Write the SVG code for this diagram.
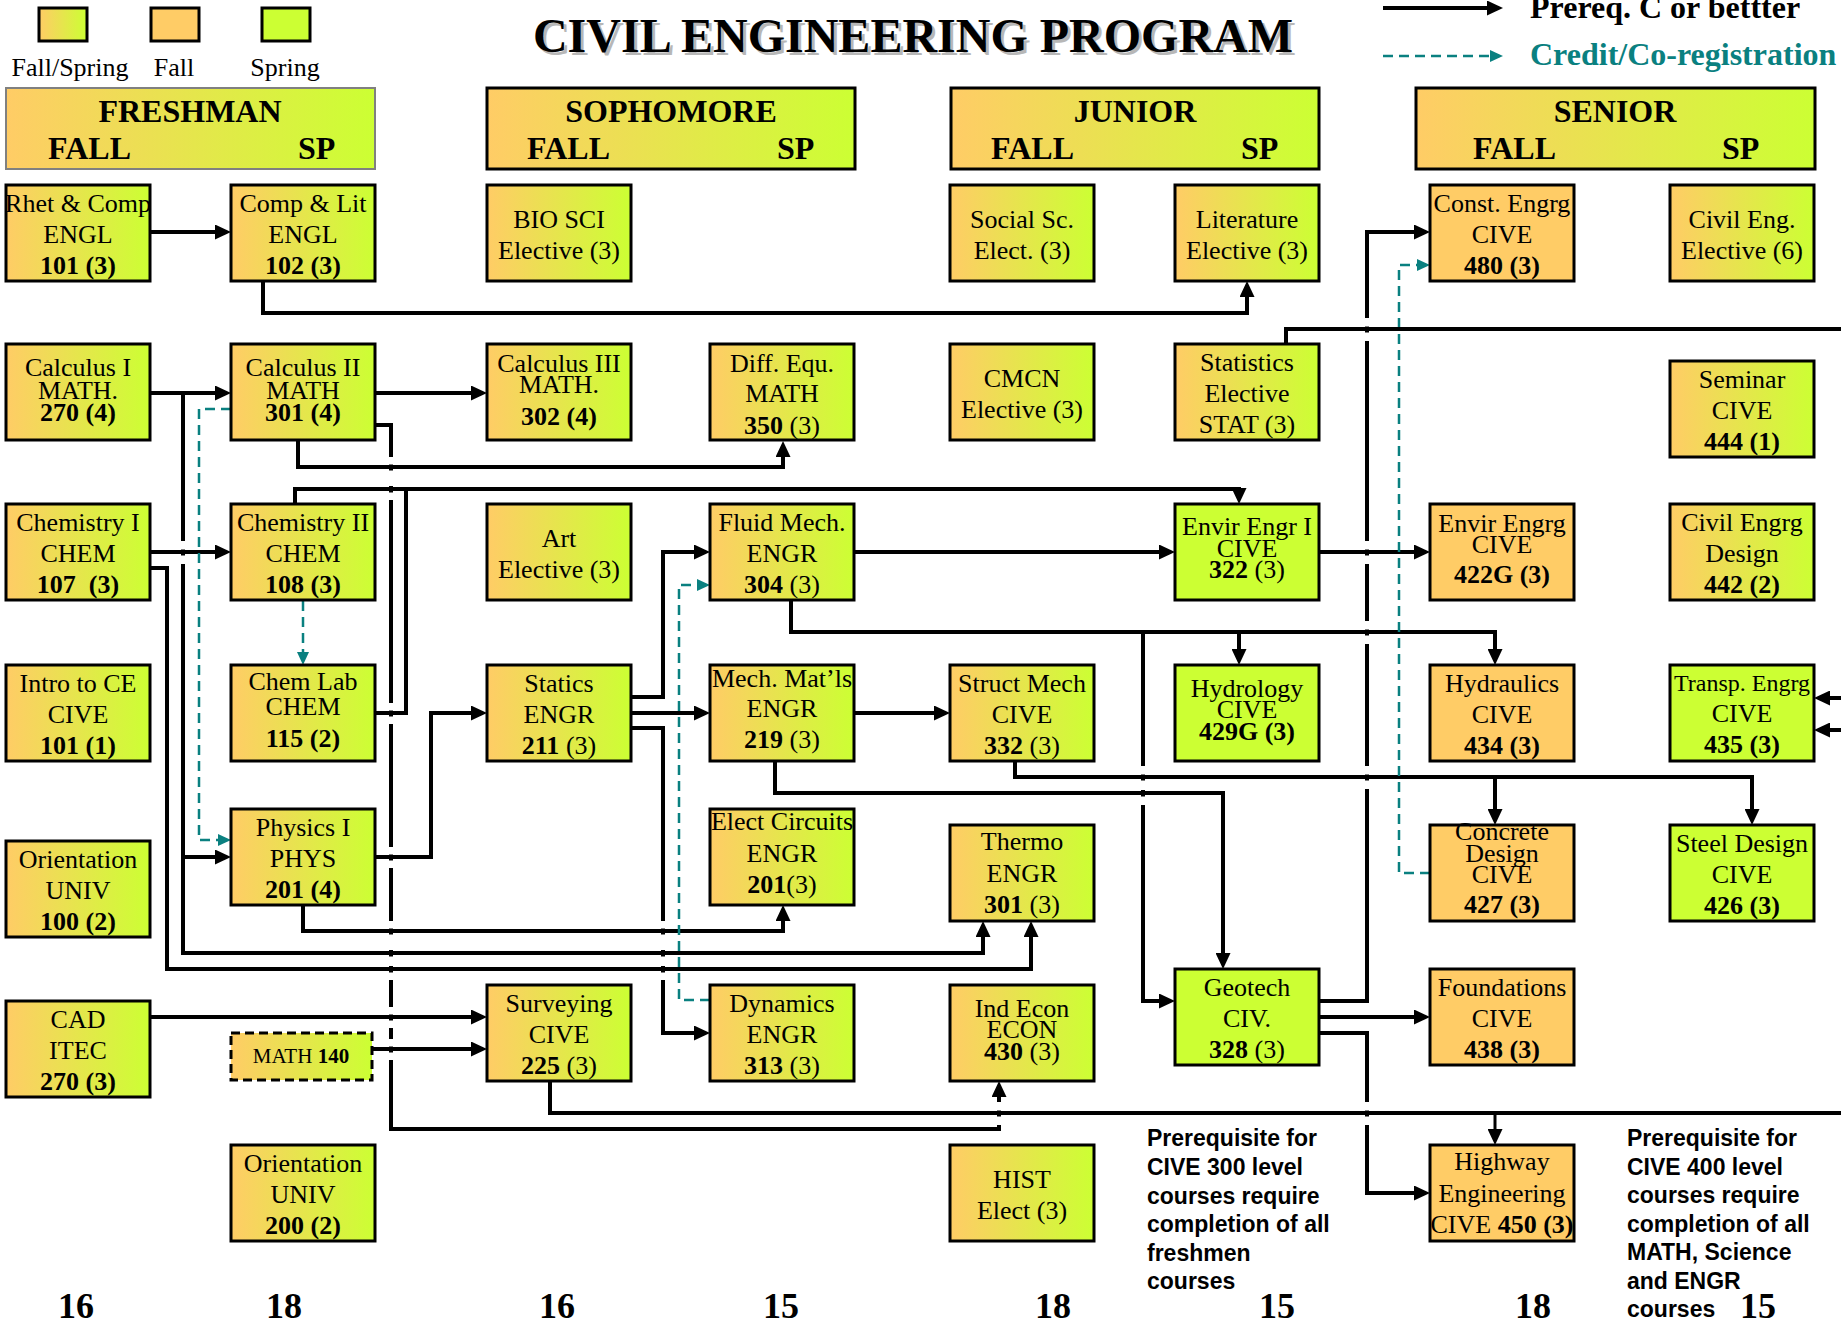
<svg xmlns="http://www.w3.org/2000/svg" width="1841" height="1326" viewBox="0 0 1841 1326">
<defs>
<linearGradient id="g" x1="0" y1="0" x2="1" y2="0">
<stop offset="0" stop-color="#FFCC66"/>
<stop offset="1" stop-color="#CCFF33"/>
</linearGradient>
<marker id="ah" markerUnits="userSpaceOnUse" markerWidth="17" markerHeight="15" refX="6" refY="7.5" orient="auto"><path d="M0,0 L16,7.5 L0,15 Z" fill="#000"/></marker>
<marker id="at" markerUnits="userSpaceOnUse" markerWidth="14" markerHeight="12" refX="5" refY="6" orient="auto"><path d="M0,0 L13,6 L0,12 Z" fill="#0A8080"/></marker>
<style>
.box{stroke:#000;stroke-width:3}
.grad{fill:url(#g)}
.fall{fill:#FFCC66}
.spr{fill:#CCFF33}
.t{font-family:"Liberation Serif","Times New Roman",serif;font-size:26px;text-anchor:middle;fill:#000}
.b{font-weight:bold}
.n{font-weight:normal}
.h{font-family:"Liberation Serif","Times New Roman",serif;font-size:32px;font-weight:bold;fill:#000}
.c{fill:none;stroke:#000;stroke-width:4}
.a{fill:none;stroke:#000;stroke-width:4;marker-end:url(#ah)}
.d{fill:none;stroke:#0A8080;stroke-width:2.5;stroke-dasharray:10,6;marker-end:url(#at)}
.note{font-family:"Liberation Sans",Arial,sans-serif;font-size:23px;font-weight:bold;fill:#000}
.cr{font-family:"Liberation Serif","Times New Roman",serif;font-size:36px;font-weight:bold;text-anchor:middle;fill:#000}
.gap{fill:#fff}
</style>
</defs>
<rect x="0" y="0" width="1841" height="1326" fill="#fff"/>

<g id="title">
<text x="916" y="55" text-anchor="middle" font-family="Liberation Serif,Times New Roman,serif" font-size="48" font-weight="bold" fill="#9a9a9a" opacity="0.7">CIVIL ENGINEERING PROGRAM</text>
<text x="913" y="52" text-anchor="middle" font-family="Liberation Serif,Times New Roman,serif" font-size="48" font-weight="bold" fill="#000">CIVIL ENGINEERING PROGRAM</text>
</g>

<g id="legend">
<rect class="box grad" x="39" y="8" width="48" height="33"/>
<rect class="box fall" x="151" y="8" width="48" height="33"/>
<rect class="box spr" x="262" y="8" width="48" height="33"/>
<text class="t" x="70" y="76">Fall/Spring</text>
<text class="t" x="174" y="76">Fall</text>
<text class="t" x="285" y="76">Spring</text>
<path class="a" d="M1383,8 H1493"/>
<path class="d" d="M1383,56 H1495"/>
<text x="1530" y="18" font-family="Liberation Serif,Times New Roman,serif" font-size="32" font-weight="bold" fill="#000">Prereq. C or bettter</text>
<text x="1530" y="65" font-family="Liberation Serif,Times New Roman,serif" font-size="32" font-weight="bold" fill="#0A8080">Credit/Co-registration</text>
</g>

<g id="hdr_freshman">
<rect x="6" y="88" width="369" height="81" fill="url(#g)" stroke="#808080" stroke-width="2"/>
<text class="h" x="190" y="122" text-anchor="middle">FRESHMAN</text>
<text class="h" x="48" y="159">FALL</text>
<text class="h" x="298" y="159">SP</text>
</g>
<g id="hdr_sophomore">
<rect class="box grad" x="487" y="88" width="368" height="81"/>
<text class="h" x="671" y="122" text-anchor="middle">SOPHOMORE</text>
<text class="h" x="527" y="159">FALL</text>
<text class="h" x="777" y="159">SP</text>
</g>
<g id="hdr_junior">
<rect class="box grad" x="951" y="88" width="368" height="81"/>
<text class="h" x="1135" y="122" text-anchor="middle">JUNIOR</text>
<text class="h" x="991" y="159">FALL</text>
<text class="h" x="1241" y="159">SP</text>
</g>
<g id="hdr_senior">
<rect class="box grad" x="1416" y="88" width="399" height="81"/>
<text class="h" x="1615" y="122" text-anchor="middle">SENIOR</text>
<text class="h" x="1473" y="159">FALL</text>
<text class="h" x="1722" y="159">SP</text>
</g>

<g id="connectors">
<path class="a" d="M150,232 H221"/>
<path class="a" d="M263,281 V313 H1247 V291"/>
<path class="a" d="M150,393 H221"/>
<path class="a" d="M183,393 V953 H983 V931"/>
<path class="a" d="M183,857 H221"/>
<path class="a" d="M150,552 H221"/>
<path class="a" d="M150,568 H167 V969 H1031 V931"/>
<path class="a" d="M375,393 H477"/>
<path class="a" d="M298,441 V467 H783 V451"/>
<path class="a" d="M375,425 H391 V1129 H999 V1091"/>
<path class="a" d="M295,504 V489 H1239 V494"/>
<path class="c" d="M375,713 H406 V489"/>
<path class="d" d="M303,601 V657"/>
<path class="d" d="M231,409 H199 V840 H223"/>
<path class="a" d="M375,857 H431 V713 H477"/>
<path class="a" d="M303,905 V931 H783 V915"/>
<path class="a" d="M150,1017 H477"/>
<path class="a" d="M372,1049 H477"/>
<path class="a" d="M631,697 H663 V552 H700"/>
<path class="a" d="M631,713 H700"/>
<path class="a" d="M631,728 H663 V1033 H700"/>
<path class="d" d="M710,1000 H679 V585 H702"/>
<path class="a" d="M854,552 H1165"/>
<path class="a" d="M791,601 V632 H1495 V655"/>
<path class="a" d="M1239,632 V655"/>
<path class="a" d="M1143,632 V1001 H1165"/>
<path class="a" d="M854,713 H940"/>
<path class="a" d="M775,761 V793 H1223 V959"/>
<path class="a" d="M1015,761 V777 H1752 V815"/>
<path class="a" d="M1495,777 V815"/>
<path class="a" d="M1319,552 H1420"/>
<path class="a" d="M1319,1001 H1367 V232 H1420"/>
<path class="a" d="M1319,1017 H1420"/>
<path class="a" d="M1319,1033 H1367 V1193 H1420"/>
<path class="d" d="M1430,873 H1399 V265 H1422"/>
<path class="c" d="M550,1081 V1113 H1841"/>
<path class="a" style="stroke-width:3" d="M1495,1113 V1135"/>
<path class="c" d="M1286,344 V329 H1841"/>
<path class="a" d="M1841,698 H1824"/>
<path class="a" d="M1841,730 H1824"/>
<g id="jumps">
<rect class="gap" x="1364" y="318" width="6" height="8.5"/><rect class="gap" x="1364" y="332.5" width="6" height="8.5"/>
<rect class="gap" x="1364" y="541" width="6" height="8.5"/><rect class="gap" x="1364" y="555.5" width="6" height="8.5"/>
<rect class="gap" x="1364" y="621" width="6" height="8.5"/><rect class="gap" x="1364" y="635.5" width="6" height="8.5"/>
<rect class="gap" x="1364" y="766" width="6" height="8.5"/><rect class="gap" x="1364" y="780.5" width="6" height="8.5"/>
<rect class="gap" x="1364" y="1102" width="6" height="8.5"/><rect class="gap" x="1364" y="1116.5" width="6" height="8.5"/>
<rect class="gap" x="1140" y="766" width="6" height="8.5"/><rect class="gap" x="1140" y="780.5" width="6" height="9.5"/><rect class="gap" x="1140" y="796.5" width="6" height="8.5"/>
<rect class="gap" x="180" y="541" width="6" height="8.5"/><rect class="gap" x="180" y="555.5" width="6" height="8.5"/>
<rect class="gap" x="996" y="1102" width="6" height="8.5"/><rect class="gap" x="996" y="1116.5" width="6" height="8.5"/>
<rect class="gap" x="660" y="921" width="6" height="7.5"/><rect class="gap" x="660" y="934.5" width="6" height="15.5"/><rect class="gap" x="660" y="956.5" width="6" height="9.5"/><rect class="gap" x="660" y="972.5" width="6" height="7.5"/>
<rect class="gap" x="388" y="457" width="6" height="7.5"/><rect class="gap" x="388" y="470.5" width="6" height="15.5"/><rect class="gap" x="388" y="492.5" width="6" height="7.5"/>
<rect class="gap" x="388" y="703" width="6" height="7.5"/><rect class="gap" x="388" y="716.5" width="6" height="7.5"/>
<rect class="gap" x="388" y="847" width="6" height="7.5"/><rect class="gap" x="388" y="860.5" width="6" height="7.5"/>
<rect class="gap" x="388" y="921" width="6" height="7.5"/><rect class="gap" x="388" y="934.5" width="6" height="15.5"/><rect class="gap" x="388" y="956.5" width="6" height="9.5"/><rect class="gap" x="388" y="972.5" width="6" height="7.5"/>
<rect class="gap" x="388" y="1007" width="6" height="7.5"/><rect class="gap" x="388" y="1020.5" width="6" height="7.5"/>
<rect class="gap" x="388" y="1039" width="6" height="7.5"/><rect class="gap" x="388" y="1052.5" width="6" height="7.5"/>
</g>
</g>

<g id="n_engl101"><rect class="box grad" x="6" y="185" width="144" height="96"/><text class="t" x="78" y="212">Rhet &amp; Comp</text><text class="t" x="78" y="243">ENGL</text><text class="t b" x="78" y="274">101 (3)</text></g>
<g id="n_math270"><rect class="box grad" x="6" y="344" width="144" height="96"/><text class="t" x="78" y="376">Calculus I</text><text class="t" x="78" y="399">MATH.</text><text class="t b" x="78" y="421">270 (4)</text></g>
<g id="n_chem107"><rect class="box grad" x="6" y="504" width="144" height="96"/><text class="t" x="78" y="531">Chemistry I</text><text class="t" x="78" y="562">CHEM</text><text class="t b" x="78" y="593" xml:space="preserve">107  (3)</text></g>
<g id="n_cive101"><rect class="box grad" x="6" y="665" width="144" height="96"/><text class="t" x="78" y="692">Intro to CE</text><text class="t" x="78" y="723">CIVE</text><text class="t b" x="78" y="754">101 (1)</text></g>
<g id="n_univ100"><rect class="box grad" x="6" y="841" width="144" height="96"/><text class="t" x="78" y="868">Orientation</text><text class="t" x="78" y="899">UNIV</text><text class="t b" x="78" y="930">100 (2)</text></g>
<g id="n_itec270"><rect class="box grad" x="6" y="1001" width="144" height="96"/><text class="t" x="78" y="1028">CAD</text><text class="t" x="78" y="1059">ITEC</text><text class="t b" x="78" y="1090">270 (3)</text></g>

<g id="n_engl102"><rect class="box grad" x="231" y="185" width="144" height="96"/><text class="t" x="303" y="212">Comp &amp; Lit</text><text class="t" x="303" y="243">ENGL</text><text class="t b" x="303" y="274">102 (3)</text></g>
<g id="n_math301"><rect class="box grad" x="231" y="344" width="144" height="96"/><text class="t" x="303" y="376">Calculus II</text><text class="t" x="303" y="399">MATH</text><text class="t b" x="303" y="421">301 (4)</text></g>
<g id="n_chem108"><rect class="box grad" x="231" y="504" width="144" height="96"/><text class="t" x="303" y="531">Chemistry II</text><text class="t" x="303" y="562">CHEM</text><text class="t b" x="303" y="593">108 (3)</text></g>
<g id="n_chem115"><rect class="box grad" x="231" y="665" width="144" height="96"/><text class="t" x="303" y="690">Chem Lab</text><text class="t" x="303" y="715">CHEM</text><text class="t b" x="303" y="747">115 (2)</text></g>
<g id="n_phys201"><rect class="box grad" x="231" y="809" width="144" height="96"/><text class="t" x="303" y="836">Physics I</text><text class="t" x="303" y="867">PHYS</text><text class="t b" x="303" y="898">201 (4)</text></g>
<g id="n_math140"><rect x="231" y="1033" width="141" height="47" fill="url(#g)" stroke="#000" stroke-width="3" stroke-dasharray="9,5"/><text class="t" x="301" y="1063" style="font-size:21px">MATH <tspan class="b">140</tspan></text></g>
<g id="n_univ200"><rect class="box grad" x="231" y="1145" width="144" height="96"/><text class="t" x="303" y="1172">Orientation</text><text class="t" x="303" y="1203">UNIV</text><text class="t b" x="303" y="1234">200 (2)</text></g>

<g id="n_biosci"><rect class="box grad" x="487" y="185" width="144" height="96"/><text class="t" x="559" y="228">BIO SCI</text><text class="t" x="559" y="259">Elective (3)</text></g>
<g id="n_math302"><rect class="box grad" x="487" y="344" width="144" height="96"/><text class="t" x="559" y="372">Calculus III</text><text class="t" x="559" y="393">MATH.</text><text class="t b" x="559" y="425">302 (4)</text></g>
<g id="n_art"><rect class="box grad" x="487" y="504" width="144" height="96"/><text class="t" x="559" y="547">Art</text><text class="t" x="559" y="578">Elective (3)</text></g>
<g id="n_engr211"><rect class="box grad" x="487" y="665" width="144" height="96"/><text class="t" x="559" y="692">Statics</text><text class="t" x="559" y="723">ENGR</text><text class="t" x="559" y="754"><tspan class="b">211</tspan> (3)</text></g>
<g id="n_cive225"><rect class="box grad" x="487" y="985" width="144" height="96"/><text class="t" x="559" y="1012">Surveying</text><text class="t" x="559" y="1043">CIVE</text><text class="t" x="559" y="1074"><tspan class="b">225</tspan> (3)</text></g>

<g id="n_math350"><rect class="box grad" x="710" y="344" width="144" height="96"/><text class="t" x="782" y="372">Diff. Equ.</text><text class="t" x="782" y="402">MATH</text><text class="t" x="782" y="434"><tspan class="b">350</tspan> (3)</text></g>
<g id="n_engr304"><rect class="box grad" x="710" y="504" width="144" height="96"/><text class="t" x="782" y="531">Fluid Mech.</text><text class="t" x="782" y="562">ENGR</text><text class="t" x="782" y="593"><tspan class="b">304</tspan> (3)</text></g>
<g id="n_engr219"><rect class="box grad" x="710" y="665" width="144" height="96"/><text class="t" x="782" y="687">Mech. Mat’ls</text><text class="t" x="782" y="717">ENGR</text><text class="t" x="782" y="748"><tspan class="b">219</tspan> (3)</text></g>
<g id="n_engr201"><rect class="box grad" x="710" y="809" width="144" height="96"/><text class="t" x="782" y="830">Elect Circuits</text><text class="t" x="782" y="862">ENGR</text><text class="t" x="782" y="893"><tspan class="b">201</tspan>(3)</text></g>
<g id="n_engr313"><rect class="box grad" x="710" y="985" width="144" height="96"/><text class="t" x="782" y="1012">Dynamics</text><text class="t" x="782" y="1043">ENGR</text><text class="t" x="782" y="1074"><tspan class="b">313</tspan> (3)</text></g>

<g id="n_socsc"><rect class="box grad" x="950" y="185" width="144" height="96"/><text class="t" x="1022" y="228">Social Sc.</text><text class="t" x="1022" y="259">Elect. (3)</text></g>
<g id="n_cmcn"><rect class="box grad" x="950" y="344" width="144" height="96"/><text class="t" x="1022" y="387">CMCN</text><text class="t" x="1022" y="418">Elective (3)</text></g>
<g id="n_cive332"><rect class="box grad" x="950" y="665" width="144" height="96"/><text class="t" x="1022" y="692">Struct Mech</text><text class="t" x="1022" y="723">CIVE</text><text class="t" x="1022" y="754"><tspan class="b">332</tspan> (3)</text></g>
<g id="n_engr301"><rect class="box grad" x="950" y="825" width="144" height="96"/><text class="t" x="1022" y="850">Thermo</text><text class="t" x="1022" y="882">ENGR</text><text class="t" x="1022" y="913"><tspan class="b">301</tspan> (3)</text></g>
<g id="n_econ430"><rect class="box grad" x="950" y="985" width="144" height="96"/><text class="t" x="1022" y="1017">Ind Econ</text><text class="t" x="1022" y="1038">ECON</text><text class="t" x="1022" y="1060"><tspan class="b">430</tspan> (3)</text></g>
<g id="n_hist"><rect class="box grad" x="950" y="1145" width="144" height="96"/><text class="t" x="1022" y="1188">HIST</text><text class="t" x="1022" y="1219">Elect (3)</text></g>

<g id="n_lit"><rect class="box grad" x="1175" y="185" width="144" height="96"/><text class="t" x="1247" y="228">Literature</text><text class="t" x="1247" y="259">Elective (3)</text></g>
<g id="n_stat"><rect class="box grad" x="1175" y="344" width="144" height="96"/><text class="t" x="1247" y="371">Statistics</text><text class="t" x="1247" y="402">Elective</text><text class="t" x="1247" y="433">STAT (3)</text></g>
<g id="n_cive322"><rect class="box spr" x="1175" y="504" width="144" height="96"/><text class="t" x="1247" y="535">Envir Engr I</text><text class="t" x="1247" y="557">CIVE</text><text class="t" x="1247" y="578"><tspan class="b">322</tspan> (3)</text></g>
<g id="n_cive429"><rect class="box spr" x="1175" y="665" width="144" height="96"/><text class="t" x="1247" y="697">Hydrology</text><text class="t" x="1247" y="718">CIVE</text><text class="t b" x="1247" y="740">429G (3)</text></g>
<g id="n_cive328"><rect class="box spr" x="1175" y="969" width="144" height="96"/><text class="t" x="1247" y="996">Geotech</text><text class="t" x="1247" y="1027">CIV.</text><text class="t" x="1247" y="1058"><tspan class="b">328</tspan> (3)</text></g>

<g id="n_cive480"><rect class="box fall" x="1430" y="185" width="144" height="96"/><text class="t" x="1502" y="212">Const. Engrg</text><text class="t" x="1502" y="243">CIVE</text><text class="t b" x="1502" y="274">480 (3)</text></g>
<g id="n_cive422"><rect class="box fall" x="1430" y="504" width="144" height="96"/><text class="t" x="1502" y="532">Envir Engrg</text><text class="t" x="1502" y="553">CIVE</text><text class="t b" x="1502" y="583">422G (3)</text></g>
<g id="n_cive434"><rect class="box fall" x="1430" y="665" width="144" height="96"/><text class="t" x="1502" y="692">Hydraulics</text><text class="t" x="1502" y="723">CIVE</text><text class="t b" x="1502" y="754">434 (3)</text></g>
<g id="n_cive427"><rect class="box fall" x="1430" y="825" width="144" height="96"/><text class="t" x="1502" y="840">Concrete</text><text class="t" x="1502" y="862">Design</text><text class="t" x="1502" y="883">CIVE</text><text class="t b" x="1502" y="913">427 (3)</text></g>
<g id="n_cive438"><rect class="box fall" x="1430" y="969" width="144" height="96"/><text class="t" x="1502" y="996">Foundations</text><text class="t" x="1502" y="1027">CIVE</text><text class="t b" x="1502" y="1058">438 (3)</text></g>
<g id="n_cive450"><rect class="box fall" x="1430" y="1145" width="144" height="96"/><text class="t" x="1502" y="1170">Highway</text><text class="t" x="1502" y="1202">Engineering</text><text class="t" x="1502" y="1233">CIVE <tspan class="b">450 (3)</tspan></text></g>

<g id="n_elec6"><rect class="box grad" x="1670" y="185" width="144" height="96"/><text class="t" x="1742" y="228">Civil Eng.</text><text class="t" x="1742" y="259">Elective (6)</text></g>
<g id="n_cive444"><rect class="box grad" x="1670" y="361" width="144" height="96"/><text class="t" x="1742" y="388">Seminar</text><text class="t" x="1742" y="419">CIVE</text><text class="t b" x="1742" y="450">444 (1)</text></g>
<g id="n_cive442"><rect class="box grad" x="1670" y="504" width="144" height="96"/><text class="t" x="1742" y="531">Civil Engrg</text><text class="t" x="1742" y="562">Design</text><text class="t b" x="1742" y="593">442 (2)</text></g>
<g id="n_cive435"><rect class="box spr" x="1670" y="665" width="144" height="96"/><text class="t" x="1742" y="691" style="font-size:24px">Transp. Engrg</text><text class="t" x="1742" y="722">CIVE</text><text class="t b" x="1742" y="753">435 (3)</text></g>
<g id="n_cive426"><rect class="box spr" x="1670" y="825" width="144" height="96"/><text class="t" x="1742" y="852">Steel Design</text><text class="t" x="1742" y="883">CIVE</text><text class="t b" x="1742" y="914">426 (3)</text></g>

<g id="note300">
<text class="note" x="1147" y="1146">Prerequisite for</text>
<text class="note" x="1147" y="1175">CIVE 300 level</text>
<text class="note" x="1147" y="1204">courses require</text>
<text class="note" x="1147" y="1232">completion of all</text>
<text class="note" x="1147" y="1261">freshmen</text>
<text class="note" x="1147" y="1289">courses</text>
</g>
<g id="note400">
<text class="note" x="1627" y="1146">Prerequisite for</text>
<text class="note" x="1627" y="1175">CIVE 400 level</text>
<text class="note" x="1627" y="1203">courses require</text>
<text class="note" x="1627" y="1232">completion of all</text>
<text class="note" x="1627" y="1260">MATH, Science</text>
<text class="note" x="1627" y="1289">and ENGR</text>
<text class="note" x="1627" y="1317">courses</text>
</g>

<g id="credits">
<text class="cr" x="76" y="1318">16</text>
<text class="cr" x="284" y="1318">18</text>
<text class="cr" x="557" y="1318">16</text>
<text class="cr" x="781" y="1318">15</text>
<text class="cr" x="1053" y="1318">18</text>
<text class="cr" x="1277" y="1318">15</text>
<text class="cr" x="1533" y="1318">18</text>
<text class="cr" x="1758" y="1318">15</text>
</g>
</svg>
